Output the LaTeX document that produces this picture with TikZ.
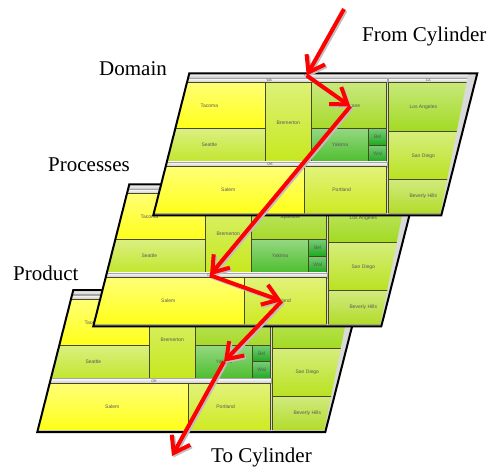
\documentclass[tikz,border=0pt]{standalone}
\usepackage{fontspec}
\setmainfont{Liberation Serif}
\newfontfamily\cellfont{Liberation Sans}
\usetikzlibrary{arrows.meta,positioning}
\definecolor{tmyellow}{HTML}{FFFF1A}
\definecolor{tmseattle}{HTML}{C2E62E}
\definecolor{tmbremerton}{HTML}{C6E81E}
\definecolor{tmspokane}{HTML}{A6DA2A}
\definecolor{tmyakima}{HTML}{4EBE2E}
\definecolor{tmsmall}{HTML}{1FAA1F}
\definecolor{tmla}{HTML}{A2DA22}
\definecolor{tmsd}{HTML}{BAE222}
\definecolor{tmbh}{HTML}{B2DC2A}
\definecolor{tmportland}{HTML}{CEEA22}
\definecolor{tmline}{HTML}{4A4A1E}
\tikzset{
    mycell/.style={draw=tmline, line width=0.6pt, top color=#1!60!white, bottom color=#1},
    myheader/.style={draw=black!35, line width=0.3pt, top color=white, bottom color=black!22},
    myframe/.style={draw=black, line width=2pt, line join=miter},
    mytiny/.style={font=\cellfont\fontsize{5}{6}\selectfont, text=black!65, inner sep=0},
    myhead/.style={font=\cellfont\fontsize{3.5}{4}\selectfont, text=black!70, inner sep=0},
    mylabel/.style={font=\fontsize{21}{24}\selectfont, inner sep=0, anchor=base west},
    myarrow/.style={-{Straight Barb[length=15pt,width=21pt]}, line width=4pt, draw=red},
    myshadow/.style={myarrow, draw=black!25, transform canvas={shift={(1.5,1.5)}}}
}
\begin{document}
\begin{tikzpicture}[x=1pt, y=-1pt]
\useasboundingbox (0,0) rectangle (487,468);

% three treemaps, bottom one first
\foreach \n/\x/\y in {q/73.3/290, p/129.3/184.3, d/189.3/73.3}{
\begin{scope}[shift={(\x,\y)}]
  \fill[black!15] (0,0) -- (288,0) -- (252,142) -- (-36,142) -- cycle;
  \begin{scope}
    \clip (0,0) -- (279,0) -- (251,140) -- (-35.6,140) -- cycle;
    \path[myheader] (-40,0) rectangle (290,4.5);
    \path[myheader] (-40,5) rectangle (197.4,9);
    \path[myheader] (199,5) rectangle (290,9);
    \path[mycell=tmyellow] (-40,9) rectangle (75.7,55);
    \path[mycell=tmseattle] (-40,55) rectangle (75.7,88.4);
    \path[mycell=tmbremerton] (75.7,9) rectangle (122.4,88.4);
    \path[mycell=tmspokane] (122.4,9) rectangle (197.4,55);
    \path[mycell=tmyakima] (122.4,55) rectangle (179,88.4);
    \path[mycell=tmsmall] (179,55) rectangle (197.4,71.7);
    \path[mycell=tmsmall] (179,71.7) rectangle (197.4,88.4);
    \path[myheader] (-40,88.4) rectangle (197.4,93.4);
    \path[mycell=tmyellow] (-40,93.4) rectangle (114.7,140);
    \path[mycell=tmportland] (114.7,93.4) rectangle (197.4,140);
    \path[mycell=tmla] (199,9) rectangle (290,58.4);
    \path[mycell=tmsd] (199,58.4) rectangle (290,106);
    \path[mycell=tmbh] (199,106) rectangle (290,140);
  \end{scope}
  \draw[myframe] (0,0) -- (288,0) -- (252,142) -- (-36,142) -- cycle;
  \node[myhead] (\n-us) at (117.4,2.2) {US};
  \node[myhead] (\n-wa) at (80,7.2) {WA};
  \node[myhead] (\n-ca) at (239,7.2) {CA};
  \node[myhead] (\n-or) at (80.7,90.9) {OR};
  \node[mytiny] (\n-tacoma) at (20,32.7) {Tacoma};
  \node[mytiny] (\n-seattle) at (20,71.7) {Seattle};
  \node[mytiny] (\n-bremerton) at (99,49.4) {Bremerton};
  \node[mytiny] (\n-spokane) at (161,33) {Spokane};
  \node[mytiny] (\n-yakima) at (150.7,71.7) {Yakima};
  \node[mytiny] (\n-bel) at (188.4,63.4) {Bel};
  \node[mytiny] (\n-wal) at (188.4,80) {Wal};
  \node[mytiny] (\n-salem) at (39,116.7) {Salem};
  \node[mytiny] (\n-portland) at (152.4,116.7) {Portland};
  \node[mytiny] (\n-la) at (234,34.4) {Los Angeles};
  \node[mytiny] (\n-sd) at (234,82.7) {San Diego};
  \node[mytiny] (\n-bh) at (234,123.4) {Beverly Hills};
\end{scope}
}

\node[mylabel] (fromlabel) at (362,42) {From Cylinder};
\node[mylabel] (domain) at (99,76) {Domain};
\node[mylabel] (processes) at (48,171) {Processes};
\node[mylabel] (product) at (13,280) {Product};
\node[mylabel] (tolabel) at (211,462.5) {To Cylinder};

\coordinate (from) at (344,9);
\coordinate (to) at (172,456);

% red path through the layers
\foreach \s in {myshadow, myarrow}{
  \draw[\s] (from) -- (d-us.center);
  \draw[\s] (d-us.center) -- (d-spokane.center);
  \draw[\s] (d-spokane.center) -- (p-or.center);
  \draw[\s] (p-or.center) -- (p-portland.center);
  \draw[\s] (p-portland.center) -- (q-yakima.center);
  \draw[\s] (q-yakima.center) -- (to);
}
\end{tikzpicture}
\end{document}
